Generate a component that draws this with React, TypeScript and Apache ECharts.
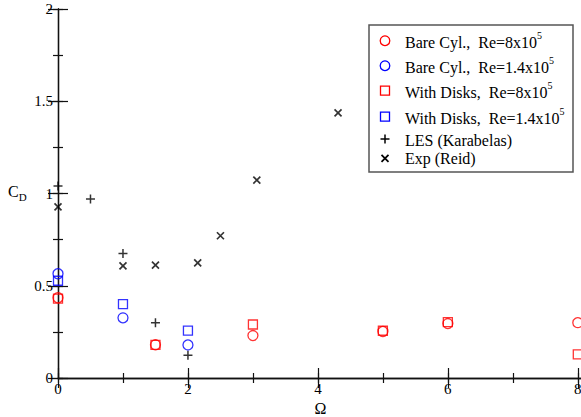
import React, { useEffect, useRef } from "react";
import * as echarts from "echarts";

// Bare cylinder, Re = 8x10^5 (red circles)
const bareHighOmega = [0, 1.5, 3, 5, 6, 8];
const bareHighCd = [0.435, 0.18, 0.23, 0.252, 0.295, 0.3];
// Bare cylinder, Re = 1.4x10^5 (blue circles)
const bareLowOmega = [0, 1, 2];
const bareLowCd = [0.565, 0.326, 0.179];
// With disks, Re = 8x10^5 (red squares)
const diskHighOmega = [0, 1.5, 3, 5, 6, 8];
const diskHighCd = [0.43, 0.18, 0.29, 0.256, 0.303, 0.128];
// With disks, Re = 1.4x10^5 (blue squares)
const diskLowOmega = [0, 1, 2];
const diskLowCd = [0.527, 0.4, 0.257];
// LES (Karabelas)
const lesOmega = [0, 0.5, 1, 1.5, 2];
const lesCd = [1.04, 0.97, 0.675, 0.3, 0.123];
// Exp (Reid)
const expOmega = [0, 1, 1.5, 2.15, 2.5, 3.06, 4.31];
const expCd = [0.928, 0.608, 0.612, 0.624, 0.771, 1.073, 1.437];

const legendLabels = [
  "Bare Cyl.,  Re=8x10{sup|5}",
  "Bare Cyl.,  Re=1.4x10{sup|5}",
  "With Disks,  Re=8x10{sup|5}",
  "With Disks,  Re=1.4x10{sup|5}",
  "LES (Karabelas)",
  "Exp (Reid)",
];

const FONT = "Times New Roman, Liberation Serif, DejaVu Serif, serif";
const RED = "#ff0000";
const BLUE = "#0000ff";
const X_MAX = 8.08;

const zip = (xs: number[], ys: number[]) => xs.map((x, i) => [x, ys[i]]);

export default function App() {
  const ref = useRef<HTMLDivElement>(null);
  useEffect(() => {
    document.body.style.margin = "0";
    const chart = echarts.init(ref.current!, null, { renderer: "svg" });
    const lineStyle = { color: "#111", width: 1.2 };
    const majorAxis = {
      type: "value" as const,
      axisLine: { show: true, lineStyle: { color: "#111", width: 1.3 } },
      axisTick: { show: true, inside: true, length: 10, lineStyle },
      splitLine: { show: false },
    };
    const minorAxis = {
      type: "value" as const,
      axisLine: { show: false },
      axisTick: { show: true, inside: true, length: 5, lineStyle },
      axisLabel: { show: false },
      splitLine: { show: false },
    };
    const hollow = (color: string) => ({ color: "transparent", borderColor: color, borderWidth: 1.3 });
    const lx = 385;
    const rows = [40.7, 65.7, 90.7, 116.7, 139, 158.3];
    const textY = [42.5, 67.5, 92.5, 118.5, 140, 158.5];
    const txt = (size: number) => ({ fontFamily: FONT, fontSize: size, color: "#000" });
    const option: any = {
      animation: false,
      grid: { left: 58, top: 9, width: 525, bottom: 39, containLabel: false, outerBoundsMode: "none" },
      xAxis: [
        {
          ...majorAxis,
          min: 0,
          max: X_MAX,
          interval: 2,
          position: "bottom",
          name: "Ω",
          nameLocation: "middle",
          nameGap: 17,
          nameTextStyle: txt(16),
          axisLabel: {
            ...txt(15),
            margin: 3,
            formatter: (v: number) => (Math.abs(v % 2) < 1e-9 ? String(v) : ""),
          },
        },
        { ...minorAxis, min: 0, max: X_MAX, interval: 1, position: "bottom" },
        { ...majorAxis, min: 0, max: X_MAX, interval: 2, position: "top", axisLabel: { show: false } },
        { ...minorAxis, min: 0, max: X_MAX, interval: 1, position: "top" },
      ],
      yAxis: [
        {
          ...majorAxis,
          min: 0,
          max: 2,
          interval: 0.5,
          position: "left",
          axisLabel: { ...txt(15), margin: 5 },
        },
        { ...minorAxis, min: 0, max: 2, interval: 0.25, position: "left" },
        { ...majorAxis, min: 0, max: 2, interval: 0.5, position: "right", axisLabel: { show: false } },
        { ...minorAxis, min: 0, max: 2, interval: 0.25, position: "right" },
      ],
      series: [
        {
          name: "LES (Karabelas)",
          type: "scatter",
          data: zip(lesOmega, lesCd),
          symbol: "path://M0,5L10,5M5,0L5,10",
          symbolSize: 9,
          itemStyle: { color: "none", borderColor: "#000", borderWidth: 1.5 },
          clip: false,
        },
        {
          name: "Exp (Reid)",
          type: "scatter",
          data: zip(expOmega, expCd),
          symbol: "path://M0,0L10,10M10,0L0,10",
          symbolSize: 7,
          itemStyle: { color: "none", borderColor: "#000", borderWidth: 1.7 },
          clip: false,
        },
        {
          name: "Bare Cyl.,  Re=8x10^5",
          type: "scatter",
          data: zip(bareHighOmega, bareHighCd),
          symbol: "circle",
          symbolSize: 10,
          itemStyle: hollow(RED),
          clip: false,
        },
        {
          name: "Bare Cyl.,  Re=1.4x10^5",
          type: "scatter",
          data: zip(bareLowOmega, bareLowCd),
          symbol: "circle",
          symbolSize: 10,
          itemStyle: hollow(BLUE),
          clip: false,
        },
        {
          name: "With Disks,  Re=8x10^5",
          type: "scatter",
          data: zip(diskHighOmega, diskHighCd),
          symbol: "rect",
          symbolSize: 9,
          itemStyle: hollow(RED),
          clip: false,
        },
        {
          name: "With Disks,  Re=1.4x10^5",
          type: "scatter",
          data: zip(diskLowOmega, diskLowCd),
          symbol: "rect",
          symbolSize: 9,
          itemStyle: hollow(BLUE),
          clip: false,
        },
      ],
      graphic: [
        {
          type: "text",
          x: 8,
          y: 181,
          style: {
            text: "C{sub|D}",
            fontFamily: FONT,
            fontSize: 16,
            fill: "#000",
            rich: {
              sub: { fontSize: 11, fontFamily: FONT, fill: "#000", padding: [10, 0, 0, 0] },
            },
          },
        },
        {
          type: "rect",
          shape: { x: 369, y: 25, width: 204, height: 147 },
          style: { fill: "#fff", stroke: "#555", lineWidth: 1.5 },
          z: 10,
        },
        { type: "circle", shape: { cx: lx, cy: rows[0], r: 4.8 }, style: { fill: "none", stroke: RED, lineWidth: 1.3 }, z: 11 },
        { type: "circle", shape: { cx: lx, cy: rows[1], r: 4.8 }, style: { fill: "none", stroke: BLUE, lineWidth: 1.3 }, z: 11 },
        { type: "rect", shape: { x: lx - 4.5, y: rows[2] - 4.5, width: 9, height: 9 }, style: { fill: "none", stroke: RED, lineWidth: 1.3 }, z: 11 },
        { type: "rect", shape: { x: lx - 4.5, y: rows[3] - 4.5, width: 9, height: 9 }, style: { fill: "none", stroke: BLUE, lineWidth: 1.3 }, z: 11 },
        { type: "line", shape: { x1: lx - 4.5, y1: rows[4], x2: lx + 4.5, y2: rows[4] }, style: { stroke: "#000", lineWidth: 1.5 }, z: 11 },
        { type: "line", shape: { x1: lx, y1: rows[4] - 4.5, x2: lx, y2: rows[4] + 4.5 }, style: { stroke: "#000", lineWidth: 1.5 }, z: 11 },
        { type: "line", shape: { x1: lx - 3.5, y1: rows[5] - 3.5, x2: lx + 3.5, y2: rows[5] + 3.5 }, style: { stroke: "#000", lineWidth: 1.7 }, z: 11 },
        { type: "line", shape: { x1: lx + 3.5, y1: rows[5] - 3.5, x2: lx - 3.5, y2: rows[5] + 3.5 }, style: { stroke: "#000", lineWidth: 1.7 }, z: 11 },
        ...legendLabels.map((t, i) => ({
          type: "text",
          x: 405,
          y: textY[i],
          z: 11,
          style: {
            text: t,
            fontFamily: FONT,
            fontSize: 16,
            fill: "#000",
            verticalAlign: "middle",
            rich: {
              sup: { fontSize: 10, fontFamily: FONT, fill: "#000", padding: [0, 0, 14, 0] },
            },
          },
        })),
      ],
    };
    chart.setOption(option);
    return () => chart.dispose();
  }, []);
  return <div ref={ref} style={{ width: 581, height: 417 }} />;
}
